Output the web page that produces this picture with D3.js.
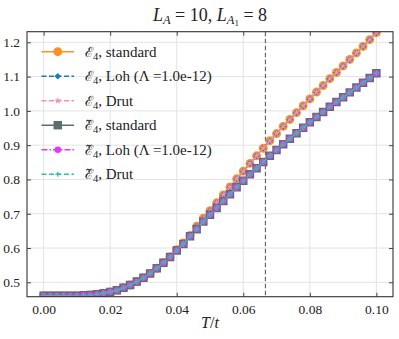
<!DOCTYPE html>
<html>
<head>
<meta charset="utf-8">
<script src="https://cdn.jsdelivr.net/npm/d3@7"></script>
<style>
  body { margin: 0; background: #fff; }
  text { font-family: "Liberation Serif", "DejaVu Serif", serif; }
</style>
</head>
<body>
<div id="chart"></div>
<script>
// temperatures T/t
const temps = d3.range(51).map(i => +(i * 0.002).toFixed(3))

// E4 (all three methods overlap)
const e4Standard = [
    0.461, 0.461, 0.461, 0.461, 0.461, 0.461, 0.462, 0.463, 0.465, 0.468,
    0.472, 0.477, 0.484, 0.492, 0.502, 0.513, 0.526, 0.541, 0.557, 0.574,
    0.595, 0.615, 0.637, 0.664, 0.687, 0.709, 0.732, 0.755, 0.778, 0.802,
    0.824, 0.847, 0.869, 0.891, 0.913, 0.934, 0.955, 0.975, 0.995, 1.015,
    1.035, 1.055, 1.074, 1.094, 1.112, 1.131, 1.150, 1.169, 1.188, 1.208,
    1.228
]
const e4Loh = e4Standard
const e4Drut = e4Standard

// tilde E4
const te4Standard = [
    0.461, 0.461, 0.461, 0.461, 0.461, 0.461, 0.462, 0.463, 0.465, 0.468,
    0.472, 0.477, 0.484, 0.492, 0.502, 0.513, 0.526, 0.541, 0.557, 0.574,
    0.593, 0.612, 0.634, 0.655, 0.677, 0.697, 0.717, 0.737, 0.757, 0.777,
    0.796, 0.815, 0.833, 0.851, 0.869, 0.886, 0.903, 0.919, 0.935, 0.951,
    0.967, 0.982, 0.997, 1.012, 1.026, 1.040, 1.054, 1.068, 1.082, 1.096,
    1.110
]
const te4Loh = te4Standard
const te4Drut = te4Standard

const xTicks = [0.00, 0.02, 0.04, 0.06, 0.08, 0.10]
const yTicks = [0.5, 0.6, 0.7, 0.8, 0.9, 1.0, 1.1, 1.2]
const tCritical = 1 / 15

const width = 399
const height = 339
const svg = d3.select('#chart')
    .append('svg')
    .attr('width', width)
    .attr('height', height)

const mLeft = 27, mRight = 393, mTop = 31.7, mBottom = 296.7

const xScale = d3.scaleLinear().domain([-0.005, 0.105]).range([mLeft, mRight])
const yScale = d3.scaleLinear().domain([0.458, 1.231]).range([mBottom, mTop])

svg.append('clipPath').attr('id', 'clip')
    .append('rect')
    .attr('x', mLeft).attr('y', mTop)
    .attr('width', mRight - mLeft).attr('height', mBottom - mTop)

/* grid */
svg.append('g')
    .selectAll('line')
    .data(xTicks)
    .enter()
    .append('line')
    .attr('x1', d => xScale(d)).attr('x2', d => xScale(d))
    .attr('y1', mTop).attr('y2', mBottom)
    .attr('stroke', '#e3e3e3')
    .attr('stroke-width', 1)
svg.append('g')
    .selectAll('line')
    .data(yTicks)
    .enter()
    .append('line')
    .attr('y1', d => yScale(d)).attr('y2', d => yScale(d))
    .attr('x1', mLeft).attr('x2', mRight)
    .attr('stroke', '#e3e3e3')
    .attr('stroke-width', 1)

/* axes, ticks pointing inwards on all sides */
const fmtX = d3.format('.2f')
const fmtY = d3.format('.1f')
const tickLen = 4

svg.append('g')
    .attr('transform', `translate(0,${mBottom})`)
    .call(d3.axisBottom(xScale).tickValues(xTicks).tickSize(-tickLen).tickPadding(8).tickFormat(fmtX))
    .call(g => g.select('.domain').remove())
svg.append('g')
    .attr('transform', `translate(0,${mTop})`)
    .call(d3.axisTop(xScale).tickValues(xTicks).tickSize(-tickLen).tickFormat(''))
    .call(g => g.select('.domain').remove())
svg.append('g')
    .attr('transform', `translate(${mLeft},0)`)
    .call(d3.axisLeft(yScale).tickValues(yTicks).tickSize(-tickLen).tickPadding(7).tickFormat(fmtY))
    .call(g => g.select('.domain').remove())
svg.append('g')
    .attr('transform', `translate(${mRight},0)`)
    .call(d3.axisRight(yScale).tickValues(yTicks).tickSize(-tickLen).tickFormat(''))
    .call(g => g.select('.domain').remove())

svg.selectAll('.tick line').attr('stroke', '#333').attr('stroke-width', 0.9)
svg.selectAll('.tick text')
    .attr('fill', '#222')
    .style('font-size', '13.5px')
    .style('font-family', '"Liberation Serif", serif')

/* critical temperature */
svg.append('line')
    .attr('x1', xScale(tCritical)).attr('x2', xScale(tCritical))
    .attr('y1', mTop).attr('y2', mBottom)
    .attr('stroke', '#666')
    .attr('stroke-width', 1.2)
    .attr('stroke-dasharray', '4.5,2.5')

/* series */
const diamond = {
    draw(ctx, size) {
        const r = Math.sqrt(size / 2)
        ctx.moveTo(0, -r); ctx.lineTo(r, 0); ctx.lineTo(0, r); ctx.lineTo(-r, 0); ctx.closePath()
    }
}
const plus = {
    draw(ctx, size) {
        const r = Math.sqrt(size) / 2
        ctx.moveTo(-r, 0); ctx.lineTo(r, 0); ctx.moveTo(0, -r); ctx.lineTo(0, r)
    }
}

const series = [
    { name: 'standard', tilde: false, values: e4Standard, color: '#ff8f26', dash: null, symbol: d3.symbolCircle, size: 62, stroke: false },
    { name: 'Loh', tilde: false, values: e4Loh, color: '#1f77c4', dash: '5,2.5', symbol: diamond, size: 22, stroke: false },
    { name: 'Drut', tilde: false, values: e4Drut, color: '#f48fb0', dash: '5,2.5', symbol: d3.symbolStar, size: 16, stroke: false },
    { name: 'standard', tilde: true, values: te4Standard, color: '#5c6e6e', dash: null, symbol: d3.symbolSquare, size: 72, stroke: false },
    { name: 'Loh', tilde: true, values: te4Loh, color: '#e438f4', dash: '6,2,1.5,2', symbol: d3.symbolCircle, size: 34, stroke: false },
    { name: 'Drut', tilde: true, values: te4Drut, color: '#2cc49e', dash: '5,2.5', symbol: plus, size: 26, stroke: true }
]

const line = d3.line()
    .x((d, i) => xScale(temps[i]))
    .y(d => yScale(d))

const plot = svg.append('g').attr('clip-path', 'url(#clip)')

function drawMarker(g, s) {
    const path = d3.symbol().type(s.symbol).size(s.size)()
    if (s.stroke) {
        g.append('path').attr('d', path).attr('fill', 'none').attr('stroke', s.color).attr('stroke-width', 1.3)
    } else {
        g.append('path').attr('d', path).attr('fill', s.color)
    }
}

series.forEach(s => {
    plot.append('path')
        .datum(s.values)
        .attr('fill', 'none')
        .attr('stroke', s.color)
        .attr('stroke-width', 1.4)
        .attr('stroke-dasharray', s.dash)
        .attr('d', line)
    s.values.forEach((v, i) => {
        const g = plot.append('g').attr('transform', `translate(${xScale(temps[i])},${yScale(v)})`)
        drawMarker(g, s)
    })
})

/* frame */
svg.append('rect')
    .attr('x', mLeft).attr('y', mTop)
    .attr('width', mRight - mLeft).attr('height', mBottom - mTop)
    .attr('fill', 'none')
    .attr('stroke', '#333')
    .attr('stroke-width', 1.1)

/* legend */
const legend = svg.append('g')
series.forEach((s, i) => {
    const y = 51.7 + i * 24.5
    legend.append('line')
        .attr('x1', 41.5).attr('x2', 74)
        .attr('y1', y).attr('y2', y)
        .attr('stroke', s.color)
        .attr('stroke-width', 1.4)
        .attr('stroke-dasharray', s.dash)
    const g = legend.append('g').attr('transform', `translate(57.8,${y})`)
    drawMarker(g, s)
    const t = legend.append('text')
        .attr('x', 85)
        .attr('y', y + 5)
        .attr('fill', '#222')
        .style('font-size', '15px')
    t.append('tspan').text(s.tilde ? 'ℰ\u0303' : 'ℰ').style('font-family', '"DejaVu Serif", serif').style('font-size', '14px')
    t.append('tspan').text('4').attr('dy', 3).style('font-size', '10.5px')
    const label = s.name === 'Loh' ? ', Loh (Λ =1.0e-12)' : `, ${s.name}`
    t.append('tspan').text(label).attr('dy', -3)
})

/* title */
const title = svg.append('text')
    .attr('x', (mLeft + mRight) / 2)
    .attr('y', 21)
    .attr('text-anchor', 'middle')
    .attr('fill', '#222')
    .style('font-size', '18px')
title.append('tspan').text('L').style('font-style', 'italic')
title.append('tspan').text('A').style('font-style', 'italic').style('font-size', '12.5px').attr('dy', 3)
title.append('tspan').text(' = 10, ').attr('dy', -3)
title.append('tspan').text('L').style('font-style', 'italic')
title.append('tspan').text('A').style('font-style', 'italic').style('font-size', '12.5px').attr('dy', 3)
title.append('tspan').text('1').style('font-size', '9px').attr('dy', 2)
title.append('tspan').text(' = 8').attr('dy', -5)

/* x label */
const xl = svg.append('text')
    .attr('x', (mLeft + mRight) / 2)
    .attr('y', 328)
    .attr('text-anchor', 'middle')
    .attr('fill', '#222')
    .style('font-size', '16px')
xl.append('tspan').text('T').style('font-style', 'italic')
xl.append('tspan').text('/')
xl.append('tspan').text('t').style('font-style', 'italic')
</script>
</body>
</html>
